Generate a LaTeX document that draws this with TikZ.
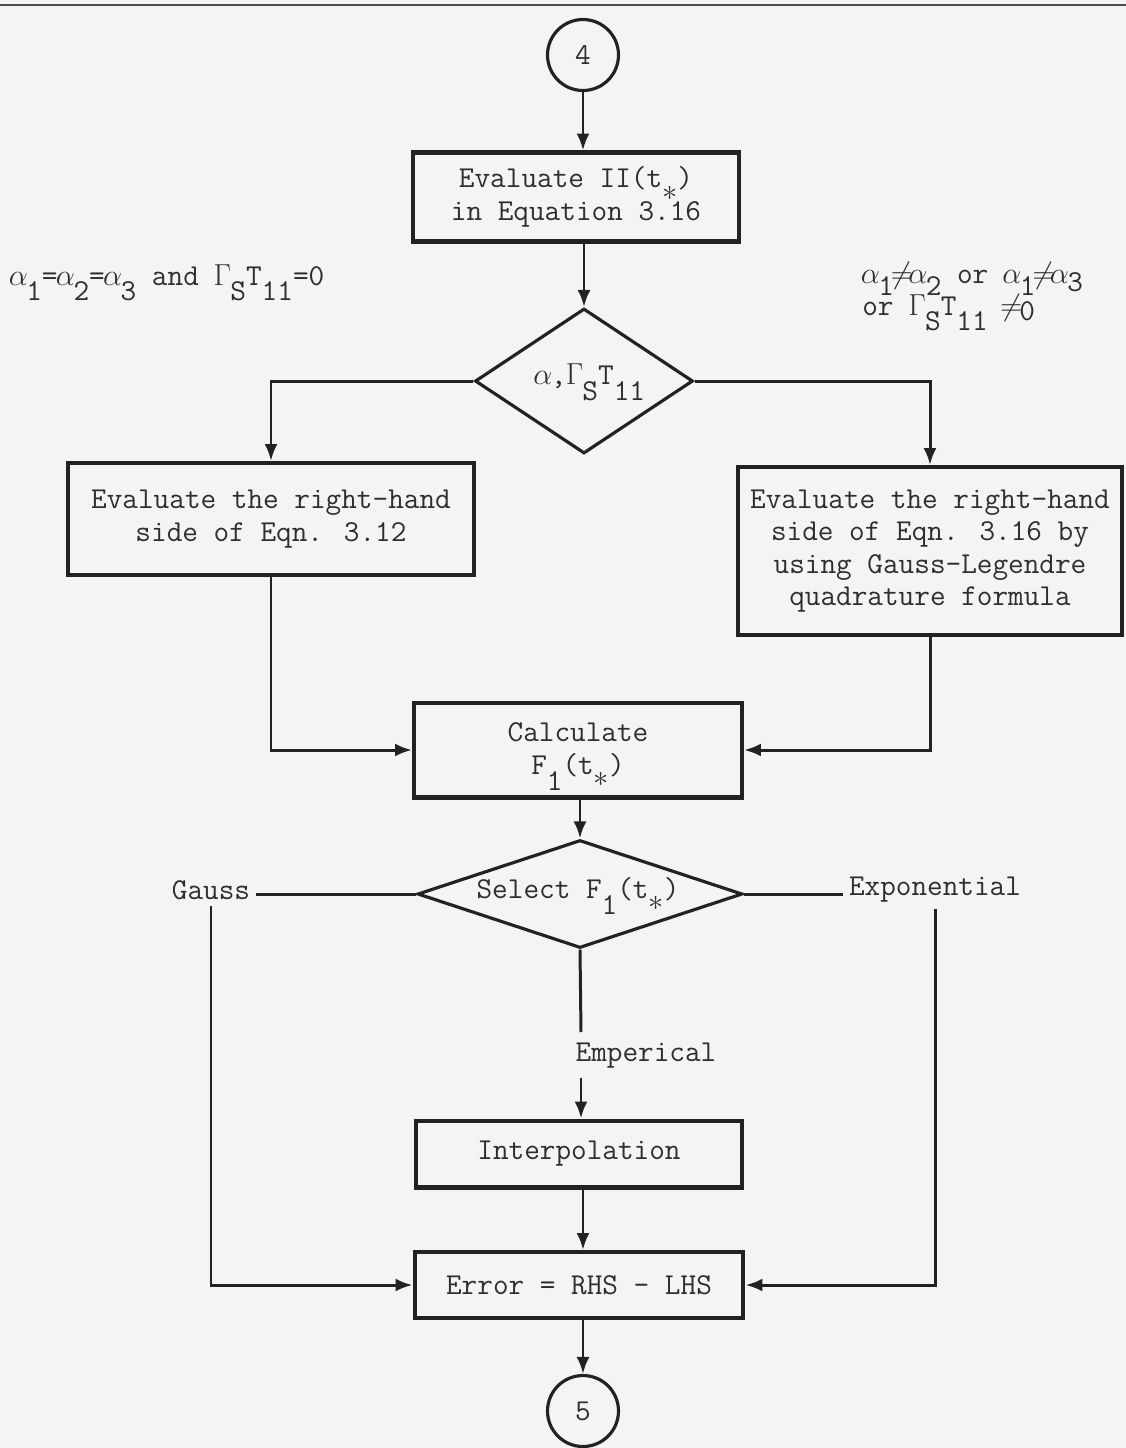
\documentclass[tikz,border=0pt]{standalone}
\usetikzlibrary{shapes.geometric,arrows.meta}
\definecolor{ink}{HTML}{222222}
\definecolor{txt}{HTML}{2E2E2E}
\definecolor{paper}{HTML}{F4F4F2}
\newcommand\dn[1]{\raisebox{-9pt}[0pt][0pt]{#1}}
\newcommand\st{\raisebox{-7pt}[0pt][0pt]{$\ast$}}
\newcommand\mc[1]{\makebox[0.525em]{#1}}
\begin{document}
\begin{tikzpicture}[x=0.02cm,y=-0.02cm,
  every node/.style={font=\ttfamily\fontsize{17.28}{18.5}\selectfont, text=txt},
  box/.style={draw=ink, line width=2.3pt, align=center, inner sep=0pt},
  dia/.style={draw=ink, line width=1.8pt, diamond, inner sep=0pt},
  conn/.style={draw=ink, line width=1.7pt},
  arr/.style={conn, -{Latex[length=0.34cm,width=0.26cm]}},
  term/.style={draw=ink, line width=1.8pt, circle, minimum size=1.42cm, inner sep=0pt},
  lab/.style={inner sep=0pt}]
\fill[paper] (0,0) rectangle (1126,1448);
\useasboundingbox (0,0) rectangle (1126,1448);
\draw[ink!80, line width=1.5pt] (0,5) -- (1126,5);

\node[term] (c4) at (583,55) {4};
\node[box, minimum width=6.52cm, minimum height=1.78cm] (b1) at (576,197) {Evaluate II(t\st)\\in Equation 3.16};
\node[dia, minimum width=4.36cm, minimum height=2.9cm] (d1) at (584,381) {};
\node[lab] (d1t) at (590,376) {\mc{$\alpha$},\mc{$\Gamma$}\dn{S}T\dn{11}};

\node[lab, anchor=base west] (ll) at (10,285) {\mc{$\alpha$}\dn{1}=\mc{$\alpha$}\dn{2}=\mc{$\alpha$}\dn{3} and \mc{$\Gamma$}\dn{S}T\dn{11}=0};
\node[lab, anchor=base west] (rl1) at (862,283) {\mc{$\alpha$}\raisebox{-7pt}[0pt][0pt]{1}\mc{$\neq$}\mc{$\alpha$}\raisebox{-7pt}[0pt][0pt]{2} or \mc{$\alpha$}\raisebox{-7pt}[0pt][0pt]{1}\mc{$\neq$}\mc{$\alpha$}\raisebox{-5pt}[0pt][0pt]{3}};
\node[lab, anchor=base west] (rl2) at (862,315) {or \mc{$\Gamma$}\dn{S}T\dn{11} \mc{$\neq$}\raisebox{-3pt}[0pt][0pt]{0}};

\node[box, minimum width=8.14cm, minimum height=2.24cm] (b2) at (271,519) {Evaluate the right-hand\\side of Eqn. 3.12};
\node[box, minimum width=7.7cm, minimum height=3.36cm] (b3) at (930,551) {Evaluate the right-hand\\side of Eqn. 3.16 by\\using Gauss-Legendre\\quadrature formula};
\node[box, minimum width=6.56cm, minimum height=1.9cm] (b4) at (578,750) {Calculate\\F\dn{1}(t\st)};
\node[dia, minimum width=6.5cm, minimum height=2.16cm] (d2) at (580,894) {};
\node[lab] (d2t) at (578,889) {Select F\dn{1}(t\st)};
\node (g) at (211,890) {Gauss};
\node (x) at (935,890) {Exponential};
\node (em) at (646,1056) {Emperical};
\node[box, minimum width=6.52cm, minimum height=1.34cm] (ip) at (579,1154) {Interpolation};
\node[box, minimum width=6.58cm, minimum height=1.32cm] (e) at (579,1285) {Error = RHS - LHS};
\node[term] (c5) at (583,1411) {5};

\coordinate (m1) at (581,1032);
\coordinate (m2) at (581,1078);

\draw[arr] (c4.south) -- (c4.south |- b1.north);
\draw[arr] (b1.south -| d1.north) -- (d1.north);
\draw[arr] (d1.west) -| (b2.north);
\draw[arr] (d1.east) -| (b3.north);
\draw[arr] (b2.south) |- (b4.west);
\draw[arr] (b3.south) |- (b4.east);
\draw[arr] (b4.south -| d2.north) -- (d2.north);
\draw[conn] (g.east |- d2.west) -- (d2.west);
\draw[conn] (d2.east) -- (x.west |- d2.east);
\draw[conn] (d2.south) -- (m1);
\draw[arr] (m2) -- (m2 |- ip.north);
\draw[arr] (g.south) |- (e.west);
\draw[arr] (x.south) |- (e.east);
\draw[arr] (ip.south -| c4) -- (e.north -| c4);
\draw[arr] (e.south -| c5.north) -- (c5.north);
\end{tikzpicture}
\end{document}
